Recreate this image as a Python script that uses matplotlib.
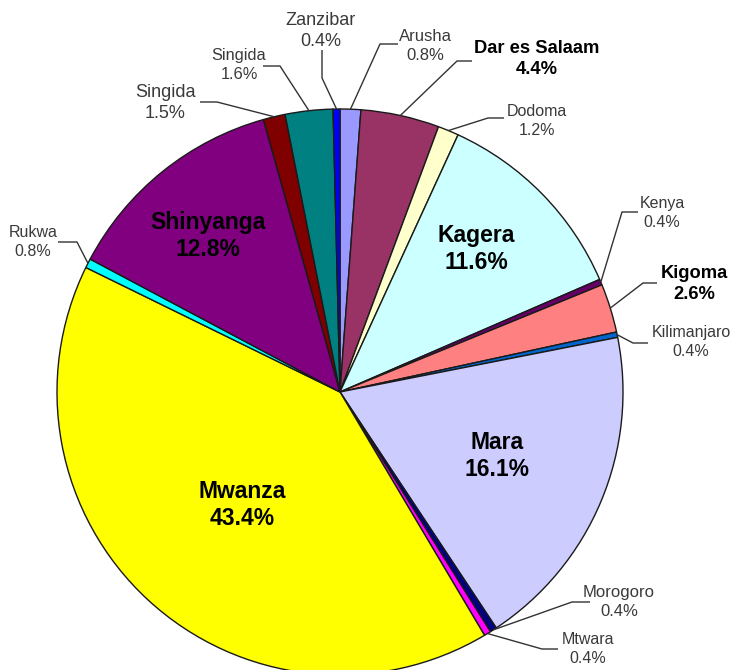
import matplotlib
matplotlib.use("Agg")
import matplotlib.pyplot as plt
import numpy as np

# ---- data ----
regions = ["Arusha", "Dar es Salaam", "Dodoma", "Kagera", "Kenya", "Kigoma",
           "Kilimanjaro", "Mara", "Morogoro", "Mtwara", "Mwanza", "Rukwa",
           "Shinyanga", "Singida", "Singida", "Zanzibar"]
# slice shares as drawn in the picture
shares = [1.18, 4.48, 1.19, 11.64, 0.33, 2.78, 0.31, 18.78, 0.39, 0.39,
          40.78, 0.53, 12.86, 1.25, 2.72, 0.39]
# percentages printed on the labels
pct_labels = ["0.8%", "4.4%", "1.2%", "11.6%", "0.4%", "2.6%", "0.4%", "16.1%",
              "0.4%", "0.4%", "43.4%", "0.8%", "12.8%", "1.5%", "1.6%", "0.4%"]
colors = ["#9999FF", "#993366", "#FFFFCC", "#CCFFFF", "#660066", "#FF8080",
          "#0066CC", "#CCCCFF", "#000080", "#FF00FF", "#FFFF00", "#00FFFF",
          "#800080", "#800000", "#008080", "#0000FF"]

# ---- layout (pixel coordinates, y downward) ----
W, H = 731, 670
CX, CY, R = 340, 392, 283
# style, text centre, leader start, leader elbow, font size
layout = {
    0: ("normal", (425, 46), (398, 44), (380, 44), 12),
    1: ("bold", (537, 59), (472, 61), (457, 61), 13.2),
    2: ("normal", (537, 121), (504, 118), (488, 118), 11.5),
    3: ("inside", (476, 249), None, None, 16.5),
    4: ("normal", (662, 213), (638, 212), (622, 212), 11.5),
    5: ("bold", (694, 284), (657, 283), (643, 283), 13.2),
    6: ("normal", (691, 342), (648, 343), (633, 343), 11.5),
    7: ("inside", (497, 456), None, None, 16.5),
    8: ("normal", (619, 602), (590, 602), (572, 602), 12),
    9: ("normal", (588, 649), (558, 649), (542, 649), 11.5),
    10: ("inside", (242, 505), None, None, 16.5),
    11: ("normal", (33, 242), (58, 242), (77, 242), 11.5),
    12: ("inside", (208, 236), None, None, 16.5),
    13: ("normal", (165, 103), (200, 102), (217, 102), 13),
    14: ("normal", (239, 65), (263, 66), (280, 66), 11.8),
    15: ("normal", (321, 31), (322, 50), (322, 78), 13),
}

def Y(py):
    return H - py

plt.rcParams["font.family"] = ["Liberation Sans", "DejaVu Sans"]
fig = plt.figure(figsize=(W / 100, H / 100), dpi=100)
ax = fig.add_axes([0, 0, 1, 1])

wedges, _ = ax.pie(shares, colors=colors, startangle=90, counterclock=False,
                   center=(CX, Y(CY)), radius=R, frame=True,
                   wedgeprops=dict(edgecolor="#1a1a1a", linewidth=1.0))
ax.set_xlim(0, W)
ax.set_ylim(0, H)
ax.set_aspect("equal")
ax.axis("off")

for i, w in enumerate(wedges):
    style, (tx, ty), start, elbow, fs = layout[i]
    text = f"{regions[i]}\n{pct_labels[i]}"
    if style == "inside":
        ax.text(tx, Y(ty), text, ha="center", va="center", fontsize=fs,
                fontweight="bold", color="black", linespacing=1.2)
        continue
    if style == "bold":
        ax.text(tx, Y(ty), text, ha="center", va="center", fontsize=fs,
                fontweight="bold", color="black", linespacing=1.25)
    else:
        ax.text(tx, Y(ty), text, ha="center", va="center", fontsize=fs,
                color="#3a3a3a", linespacing=1.3)
    mid = np.deg2rad((w.theta1 + w.theta2) / 2)
    tipx = CX + R * np.cos(mid)
    tipy = Y(CY) + R * np.sin(mid)
    ax.plot([start[0], elbow[0], tipx], [Y(start[1]), Y(elbow[1]), tipy],
            color="#333333", linewidth=1.0, solid_capstyle="butt")

fig.savefig("out.png", dpi=100)
